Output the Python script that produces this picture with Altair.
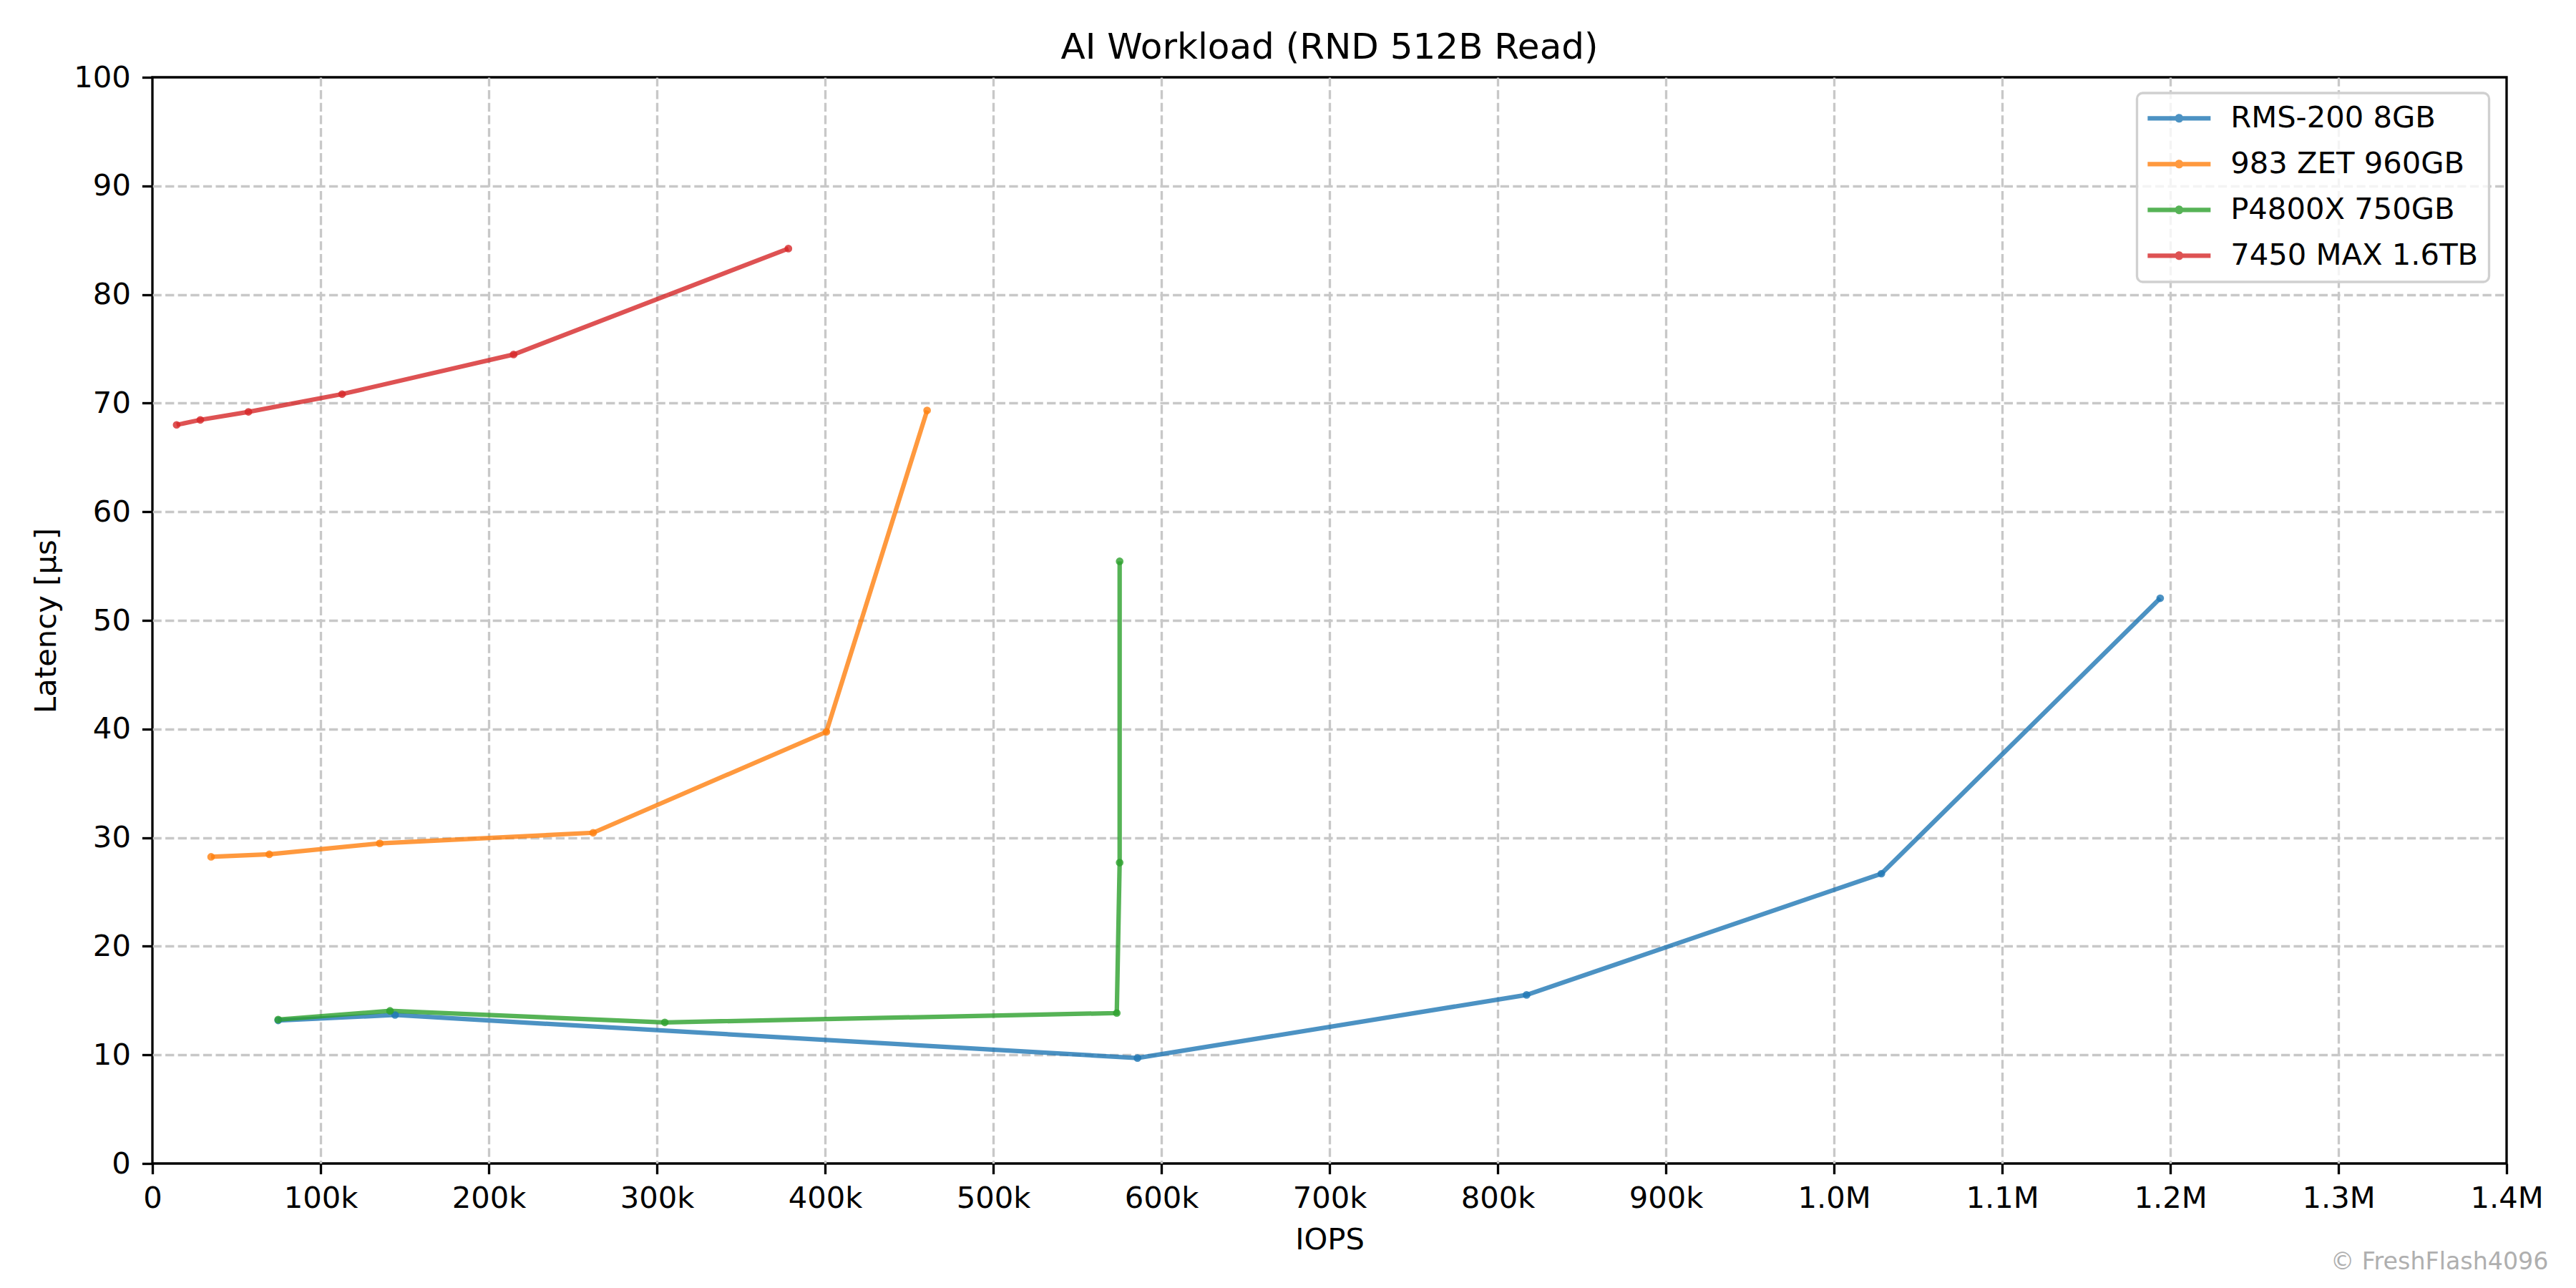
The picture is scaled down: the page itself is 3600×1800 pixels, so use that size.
import altair as alt
import pandas as pd

# ---- data ----
series_names = ["RMS-200 8GB", "983 ZET 960GB", "P4800X 750GB", "7450 MAX 1.6TB"]
series_colors = ["#1f77b4", "#ff7f0e", "#2ca02c", "#d62728"]

rms_iops = [74800, 144300, 585800, 817200, 1028200, 1194000]
rms_lat = [13.17, 13.67, 9.71, 15.52, 26.68, 52.04]

zet_iops = [34900, 69500, 135200, 262100, 400800, 460700]
zet_lat = [28.23, 28.46, 29.47, 30.45, 39.74, 69.33]

p4800_iops = [74800, 141300, 304700, 573500, 575200, 575200]
p4800_lat = [13.25, 14.05, 12.99, 13.85, 27.70, 55.44]

max7450_iops = [14400, 28500, 57100, 112800, 214800, 378200]
max7450_lat = [68.00, 68.46, 69.20, 70.83, 74.48, 84.23]

x_ticks = [i * 100000 for i in range(15)]
y_ticks = [i * 10 for i in range(11)]

title_text = "AI Workload (RND 512B Read)"
x_title = "IOPS"
y_title = "Latency [µs]"
watermark = "© FreshFlash4096"

# ---- table ----
rows = []
for name, xs, ys in zip(series_names,
                        [rms_iops, zet_iops, p4800_iops, max7450_iops],
                        [rms_lat, zet_lat, p4800_lat, max7450_lat]):
    for i, (xv, yv) in enumerate(zip(xs, ys)):
        rows.append({"series": name, "iops": xv, "lat": yv, "idx": i})
df = pd.DataFrame(rows)

W, H = 3290, 1518
PAD_L, PAD_T = 205, 100
FS = 41.7
LW = 3.33

x_label_expr = ("datum.value == 0 ? '0' : (datum.value < 1000000 ? format(datum.value/1000, 'd') + 'k' "
                ": format(datum.value/1000000, '.1f') + 'M')")

x_enc = alt.X("iops:Q",
              scale=alt.Scale(domain=[0, 1400000], nice=False, zero=False),
              axis=alt.Axis(values=x_ticks, labelExpr=x_label_expr, title=x_title,
                            labelBaseline="alphabetic", labelPadding=46.4, labelFlush=False,
                            labelOverlap=False,
                            titleX=W / 2, titleY=119.5, titleBaseline="alphabetic",
                            titleAlign="center",
                            gridOpacity={"condition": {"test": "datum.value == 0 || datum.value >= 1400000", "value": 0}, "value": 1}))
y_enc = alt.Y("lat:Q",
              scale=alt.Scale(domain=[0, 100], nice=False, zero=False),
              axis=alt.Axis(values=y_ticks, title=y_title, labelPadding=16, labelFlush=False,
                            labelOverlap=False,
                            titleX=-136, titleY=H / 2, titleAngle=-90,
                            titleBaseline="alphabetic", titleAlign="center",
                            gridOpacity={"condition": {"test": "datum.value == 0 || datum.value >= 100", "value": 0}, "value": 1}))

color_scale = alt.Scale(domain=series_names, range=series_colors)

# legend handle: line 88px long, 6.25px thick, with a 12px dot; unit = 20.5px
legend_path = ("M-2.146,-0.152H2.146V0.152H-2.146Z "
               "M0.293,0A0.293,0.293 0 1 1 -0.293,0A0.293,0.293 0 1 1 0.293,0Z")

legend = alt.Legend(title=None, orient="none", legendX=2773.5, legendY=22,
                    symbolType=legend_path, symbolSize=41 * 41, symbolStrokeWidth=0,
                    symbolOffset=23.5,
                    symbolOpacity=0.8, labelFont="DejaVu Sans", labelFontSize=FS,
                    labelColor="black", labelOffset=51, rowPadding=21, padding=14.5,
                    strokeColor="#d0d0d0", fillColor="rgba(255,255,255,0.8)",
                    cornerRadius=8, labelLimit=0)

lines = alt.Chart(df).mark_line(strokeWidth=6.25, opacity=0.8).encode(
    x=x_enc, y=y_enc,
    stroke=alt.Stroke("series:N", scale=color_scale, legend=None),
    order="idx:Q", detail="series:N")

points = alt.Chart(df).mark_circle(size=115, opacity=0.8).encode(
    x=x_enc, y=y_enc,
    color=alt.Color("series:N", scale=color_scale, legend=legend))

wm = alt.Chart(pd.DataFrame({"t": [watermark]})).mark_text(
    align="right", baseline="alphabetic", font="DejaVu Sans", fontSize=33.3, color="#afafaf"
).encode(text="t:N", x=alt.value(3348.5), y=alt.value(1666))

chart = alt.layer(lines, points, wm).resolve_scale(color="independent", stroke="independent").properties(
    width=W, height=H,
    title=alt.TitleParams(title_text, font="DejaVu Sans", fontSize=50, fontWeight="normal",
                          color="black", anchor="middle", baseline="alphabetic", offset=-44),
    autosize=alt.AutoSizeParams(type="none"),
    padding={"left": PAD_L, "top": PAD_T, "right": 3600 - 16 - W - PAD_L, "bottom": 1800 - 16 - H - PAD_T},
    background="white",
).configure_view(
    stroke="black", strokeWidth=LW
).configure_axis(
    domain=False, tickColor="black", tickWidth=LW, tickSize=14.6,
    gridColor="#c8c8c8", gridWidth=LW, gridDash=[12.3, 5.3],
    labelFont="DejaVu Sans", labelFontSize=FS, labelColor="black",
    titleFont="DejaVu Sans", titleFontSize=FS, titleFontWeight="normal", titleColor="black"
).configure_legend(strokeWidth=LW)

chart.save("out.html", embed_options={"renderer": "svg", "actions": False})
